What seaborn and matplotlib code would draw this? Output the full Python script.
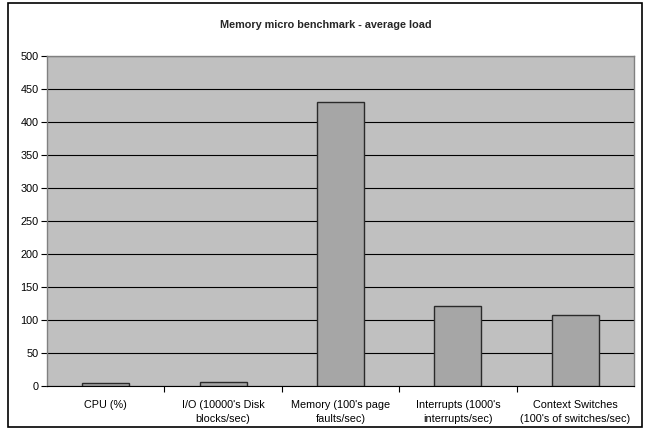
import matplotlib
matplotlib.use("Agg")
import matplotlib.pyplot as plt
from matplotlib.patches import Rectangle
import seaborn as sns
import pandas as pd

categories = [
    "CPU (%)",
    "I/O (10000's Disk\nblocks/sec)",
    "Memory (100's page\nfaults/sec)",
    "Interrupts (1000's\ninterrupts/sec)",
    "Context Switches\n(100's of switches/sec)",
]
values = [4, 5.5, 430, 121, 108]
y_ticks = [0, 50, 100, 150, 200, 250, 300, 350, 400, 450, 500]
title = "Memory micro benchmark - average load"

sns.set_theme(style="white")
plt.rcParams["font.family"] = ["Liberation Sans", "DejaVu Sans"]

fig = plt.figure(figsize=(6.51, 4.30), dpi=100)
ax = fig.add_axes([47 / 651, 1 - 386 / 430, (634 - 47) / 651, (386 - 56) / 430])
ax.set_facecolor("#c0c0c0")

df = pd.DataFrame({"category": categories, "value": values})
sns.barplot(data=df, x="category", y="value", ax=ax, width=0.4,
            color="#a6a6a6", saturation=1, edgecolor="#2a2a2a", linewidth=1.0,
            zorder=3)

ax.set_ylim(0, 500)
ax.set_xlim(-0.5, len(categories) - 0.5)
ax.set_yticks(y_ticks)
ax.set_yticklabels([str(v) for v in y_ticks], fontsize=7.8, color="black")
ax.yaxis.grid(True, color="black", linewidth=0.8, zorder=1)
ax.set_axisbelow(True)
ax.set_xlabel("")
ax.set_ylabel("")

# category labels centred under bars, tick marks between categories
ax.set_xticks(range(len(categories)))
ax.set_xticklabels(categories, fontsize=7.8, color="black", linespacing=1.5)
ax.tick_params(axis="x", which="major", length=0, pad=10)
ax.set_xticks([i + 0.5 for i in range(len(categories) - 1)], minor=True)
ax.tick_params(axis="x", which="minor", length=4, width=0.8, color="black",
               direction="out", bottom=True)
ax.tick_params(axis="y", length=4, width=0.8, color="black", direction="out",
               left=True, pad=2)

for side in ["top", "right"]:
    ax.spines[side].set_color("#808080")
    ax.spines[side].set_linewidth(1.0)
ax.spines["left"].set_color("#808080")
ax.spines["left"].set_linewidth(1.0)
ax.spines["bottom"].set_color("black")
ax.spines["bottom"].set_linewidth(0.8)

fig.text(0.5, 1 - 25 / 430, title, ha="center", va="center",
         fontsize=7.8, fontweight="bold")

fig.patches.append(Rectangle((8 / 651, 3 / 430), (642 - 8) / 651, (427 - 3) / 430,
                             transform=fig.transFigure, fill=False,
                             edgecolor="black", linewidth=1.2))

fig.savefig("out.png", dpi=100, facecolor="white")
